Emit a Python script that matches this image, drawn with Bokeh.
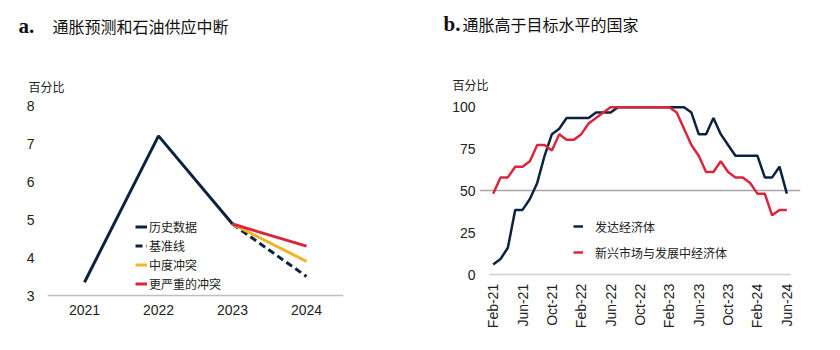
from bokeh.plotting import figure
from bokeh.layouts import row, column
from bokeh.models import (Range1d, FixedTicker, Label, Legend, LegendItem)
from bokeh.embed import file_html
from bokeh.resources import INLINE

# ---------------- data: panel a ----------------
hist_years = [2021, 2022, 2023]
hist_vals = [3.35, 7.2, 4.88]
proj_years = [2023, 2024]
baseline_vals = [4.88, 3.5]
moderate_vals = [4.88, 3.9]
severe_vals = [4.88, 4.3]
a_xticks = [2021, 2022, 2023, 2024]
a_yticks = [3, 4, 5, 6, 7, 8]

# ---------------- data: panel b ----------------
month_idx = list(range(41))  # Feb-21 ... Jun-24
month_tick_pos = [0, 4, 8, 12, 16, 20, 24, 28, 32, 36, 40]
month_tick_labels = ["Feb-21", "Jun-21", "Oct-21", "Feb-22", "Jun-22", "Oct-22",
                     "Feb-23", "Jun-23", "Oct-23", "Feb-24", "Jun-24"]
advanced = [6.2, 9.4, 16.1, 38.7, 38.7, 45.2, 54.8, 71.0, 83.9, 87.1,
            93.5, 93.5, 93.5, 93.5, 96.8, 96.8, 96.8, 100, 100, 100,
            100, 100, 100, 100, 100, 100, 100, 96.8, 83.9, 83.9,
            93.5, 83.9, 77.4, 71.0, 71.0, 71.0, 71.0, 58.1, 58.1, 64.5,
            48.4]
emde = [48.4, 58.1, 58.1, 64.5, 64.5, 67.7, 77.4, 77.4, 74.2, 83.9,
        80.6, 80.6, 83.9, 90.3, 93.5, 96.8, 100, 100, 100, 100,
        100, 100, 100, 100, 100, 96.8, 87.1, 77.4, 71.0, 61.3,
        61.3, 67.7, 61.3, 58.1, 58.1, 54.8, 48.4, 48.4, 35.5, 38.7,
        38.7]
b_yticks = [0, 25, 50, 75, 100]

NAVY = "#0c2340"
RED = "#d9263c"
YELLOW = "#f0b429"
CJK = "Noto Sans CJK SC"
LAT = "Liberation Sans"
SERIF = "Liberation Serif"


def style(p):
    p.outline_line_color = None
    p.background_fill_color = "white"
    p.border_fill_color = "white"
    p.xgrid.visible = False
    for ax in p.axis:
        ax.major_tick_line_color = None
        ax.minor_tick_line_color = None
        ax.major_tick_out = 0
        ax.major_tick_in = 0
        ax.minor_tick_out = 0
        ax.major_label_text_font = LAT
        ax.major_label_text_font_size = "14px"
        ax.major_label_text_color = "#222222"
    p.yaxis.axis_line_color = None
    p.yaxis.major_label_standoff = 13


# ---------------- header (titles) ----------------
hd = figure(width=840, height=95, output_backend="svg", toolbar_location=None,
            x_range=Range1d(0, 840), y_range=Range1d(0, 95),
            x_axis_type=None, y_axis_type=None,
            min_border=0, min_border_left=0, min_border_right=0,
            min_border_top=0, min_border_bottom=0)
hd.outline_line_color = None
hd.grid.visible = False
hd.background_fill_color = "white"
hd.border_fill_color = "white"


def hlabel(x, y, text, font, size, bold=False, color="#111111"):
    hd.add_layout(Label(x=x, y=y, text=text, text_font=font, text_font_size=size,
                        text_font_style="bold" if bold else "normal",
                        text_baseline="middle", text_color=color))


hlabel(18, 70, "a.", SERIF, "21px", bold=True)
hlabel(52, 70, "通胀预测和石油供应中断", CJK, "16px")
hlabel(28, 9, "百分比", CJK, "12px", color="#222222")
hlabel(443, 72, "b.", SERIF, "21px", bold=True)
hlabel(462, 72, "通胀高于目标水平的国家", CJK, "16px")
hlabel(452, 11, "百分比", CJK, "12px", color="#222222")

# Both panels: frame spans canvas y 105..340; x axes are pinned at a data value.
# ---------------- panel a ----------------  (3 -> y 295, 8 -> y 105)
pa = figure(width=420, height=255, output_backend="svg", toolbar_location=None,
            x_range=Range1d(2020.5, 2024.5), y_range=Range1d(3 - 45 / 38, 8),
            min_border_left=47, min_border_right=77, min_border_top=10,
            min_border_bottom=10)
style(pa)
pa.ygrid.visible = False
pa.xaxis.fixed_location = 3
pa.xaxis.ticker = FixedTicker(ticks=a_xticks)
pa.xaxis.axis_line_color = "#bfbfbf"
pa.xaxis.axis_line_width = 1.5
pa.xaxis.major_label_standoff = 9
pa.yaxis.ticker = FixedTicker(ticks=a_yticks)

r_hist = pa.line(hist_years, hist_vals, line_color=NAVY, line_width=3)
r_base = pa.line(proj_years, baseline_vals, line_color=NAVY, line_width=3, line_dash="7 4")
r_mod = pa.line(proj_years, moderate_vals, line_color=YELLOW, line_width=3)
r_sev = pa.line(proj_years, severe_vals, line_color=RED, line_width=3)

leg_a = Legend(items=[LegendItem(label="历史数据", renderers=[r_hist]),
                      LegendItem(label="基准线", renderers=[r_base]),
                      LegendItem(label="中度冲突", renderers=[r_mod]),
                      LegendItem(label="更严重的冲突", renderers=[r_sev])],
               location=(88, 47), background_fill_alpha=0, border_line_alpha=0,
               padding=0, margin=0, spacing=0, glyph_width=12, glyph_height=19,
               label_height=19, label_standoff=2, label_text_font=CJK,
               label_text_font_size="12px", label_text_color="#222222")
pa.add_layout(leg_a, "center")

# ---------------- panel b ----------------  (0 -> y 274.3, 100 -> y 106.7)
# frame spans canvas x 479..800; months -0.5..40.5 map to x 489..790
PXM = 301 / 41.0
pb = figure(width=420, height=255, output_backend="svg", toolbar_location=None,
            x_range=Range1d(-0.5 - 10 / PXM, 40.5 + 10 / PXM), y_range=Range1d(-39.2, 101.0),
            min_border_left=59, min_border_right=40, min_border_top=10,
            min_border_bottom=10)
style(pb)
pb.yaxis.ticker = FixedTicker(ticks=b_yticks)
pb.yaxis.major_label_standoff = 4
pb.ygrid.ticker = FixedTicker(ticks=[50])
pb.ygrid.bounds = (-0.5, 40.5)
pb.ygrid.grid_line_color = "#a6a6a6"
pb.ygrid.grid_line_width = 1.5
pb.xaxis.fixed_location = 0
pb.xaxis.bounds = (-0.5, 40.5)
pb.xaxis.ticker = FixedTicker(ticks=month_tick_pos)
pb.xaxis.major_label_overrides = {pos: lab for pos, lab in zip(month_tick_pos, month_tick_labels)}
pb.xaxis.major_label_orientation = 1.5708
pb.xaxis.major_label_standoff = 9
pb.xaxis.axis_line_color = "#d0d0d0"
pb.xaxis.axis_line_width = 1.5

r_adv = pb.line(month_idx, advanced, line_color=NAVY, line_width=2.5)
r_em = pb.line(month_idx, emde, line_color=RED, line_width=2.5)

leg_b = Legend(items=[LegendItem(label="发达经济体", renderers=[r_adv]),
                      LegendItem(label="新兴市场与发展中经济体", renderers=[r_em])],
               location=(94, 78), background_fill_alpha=0, border_line_alpha=0,
               padding=0, margin=0, spacing=6, glyph_width=10, glyph_height=20,
               label_height=20, label_standoff=12, label_text_font=CJK,
               label_text_font_size="12px", label_text_color="#222222")
pb.add_layout(leg_b, "center")

layout = column(hd, row(pa, pb))
open("out.html", "w").write(file_html(layout, INLINE))
